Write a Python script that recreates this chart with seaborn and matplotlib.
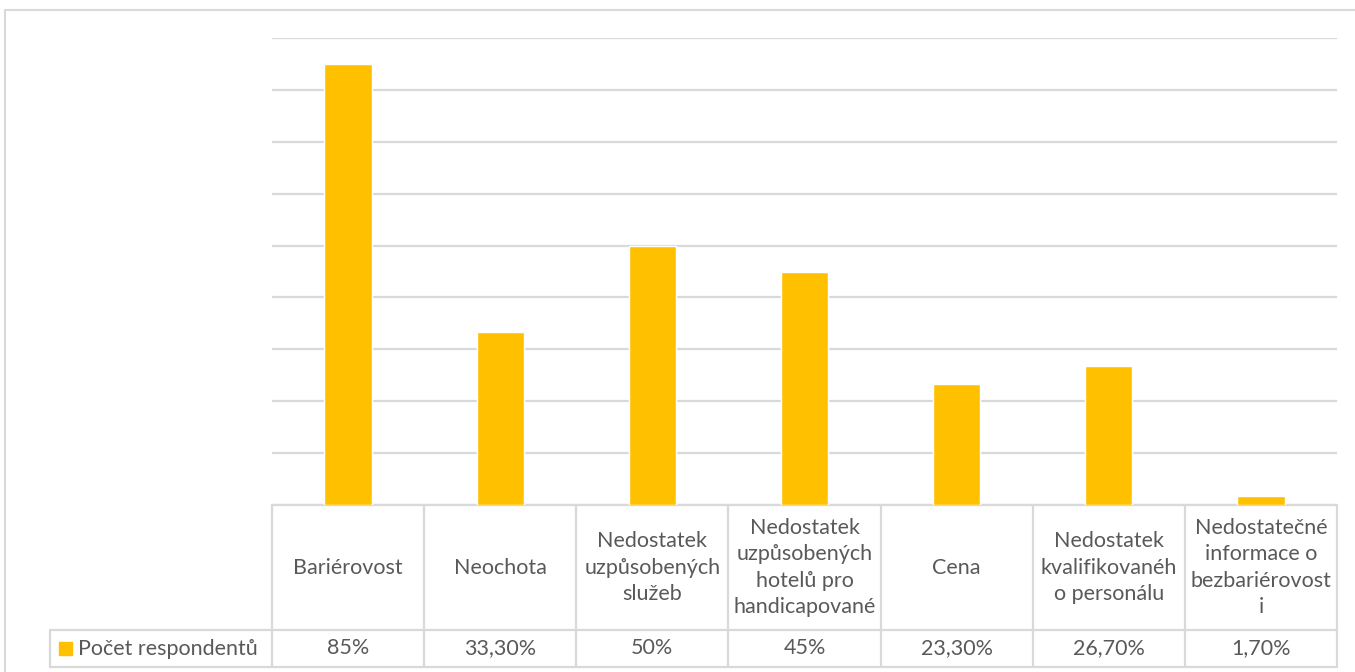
import numpy as np
import pandas as pd
import matplotlib
matplotlib.use("Agg")
import matplotlib.pyplot as plt
import matplotlib.transforms as mtransforms
from matplotlib.lines import Line2D
from matplotlib.patches import Rectangle
import seaborn as sns

# data
categories = [
    "Bariérovost",
    "Neochota",
    "Nedostatek\nuzpůsobených\nslužeb",
    "Nedostatek\nuzpůsobených\nhotelů pro\nhandicapované",
    "Cena",
    "Nedostatek\nkvalifikovanéh\no personálu",
    "Nedostatečné\ninformace o\nbezbariérovost\ni",
]
values = [85, 33.3, 50, 45, 23.3, 26.7, 1.7]
value_labels = ["85%", "33,30%", "50%", "45%", "23,30%", "26,70%", "1,70%"]
series_name = "Počet respondentů"

bar_color = "#FFC000"
grid_color = "#D9D9D9"
text_color = "#595959"

sns.set_theme(style="white")
plt.rcParams["font.family"] = ["Lato", "DejaVu Sans"]
fs = 15.5

W, H = 1355, 672
fig = plt.figure(figsize=(W / 100, H / 100), dpi=100)

# plot area in pixels
x0, x1 = 272, 1337
y_top, y_base = 38, 505
ax = fig.add_axes([x0 / W, 1 - y_base / H, (x1 - x0) / W, (y_base - y_top) / H])

df = pd.DataFrame({"cat": range(len(values)), "val": values})
sns.barplot(data=df, x="cat", y="val", color=bar_color, width=0.31,
            saturation=1, ax=ax, zorder=3)
ax.set_xlim(-0.5, len(values) - 0.5)
ax.set_ylim(0, 90)
ax.set_yticks(np.arange(0, 91, 10))
ax.yaxis.grid(True, color=grid_color, linewidth=1.6, zorder=0)
ax.set_axisbelow(True)
ax.tick_params(left=False, bottom=False, labelleft=False, labelbottom=False)
ax.set_xlabel("")
ax.set_ylabel("")
for s in ax.spines.values():
    s.set_visible(False)

# data table below the axis
trans = mtransforms.blended_transform_factory(ax.transData, ax.transAxes)
h_ax = y_base - y_top
row1 = -(630 - y_base) / h_ax
row2 = -(667 - y_base) / h_ax
lw = 1.6
n = len(values)

def hline(xa, xb, y, tr):
    ax.add_line(Line2D([xa, xb], [y, y], transform=tr, color=grid_color,
                       lw=lw, clip_on=False))

def vline(x, ya, yb, tr):
    ax.add_line(Line2D([x, x], [ya, yb], transform=tr, color=grid_color,
                       lw=lw, clip_on=False))

hline(-0.5, n - 0.5, 0, trans)
hline(-0.5, n - 0.5, row1, trans)
hline(-0.5, n - 0.5, row2, trans)
for i in range(n + 1):
    vline(i - 0.5, 0, row2, trans)

# legend cell on the left
leg_x = 50 / W
ftrans = mtransforms.blended_transform_factory(fig.transFigure, ax.transAxes)
hline(leg_x, x0 / W, row1, ftrans)
hline(leg_x, x0 / W, row2, ftrans)
vline(leg_x, row1, row2, ftrans)

for i, (lab, vl) in enumerate(zip(categories, value_labels)):
    ax.text(i, row1 / 2, lab, transform=trans, ha="center", va="center",
            fontsize=fs, color=text_color, linespacing=1.38)
    ax.text(i, (row1 + row2) / 2, vl, transform=trans, ha="center",
            va="center", fontsize=fs, color=text_color)

ymid = 1 - 649 / H
fig.patches.append(Rectangle((59 / W, ymid - 6 / H), 13 / W, 13 / H,
                             transform=fig.transFigure, color=bar_color))
fig.text(78 / W, ymid, series_name, ha="left", va="center", fontsize=fs,
         color=text_color)

# chart frame
fig.patches.append(Rectangle((5 / W, -0.05), 1.1, 1 - 10 / H + 0.05,
                             transform=fig.transFigure, fill=False,
                             edgecolor=grid_color, lw=1.5))

fig.savefig("out.png", dpi=100)
